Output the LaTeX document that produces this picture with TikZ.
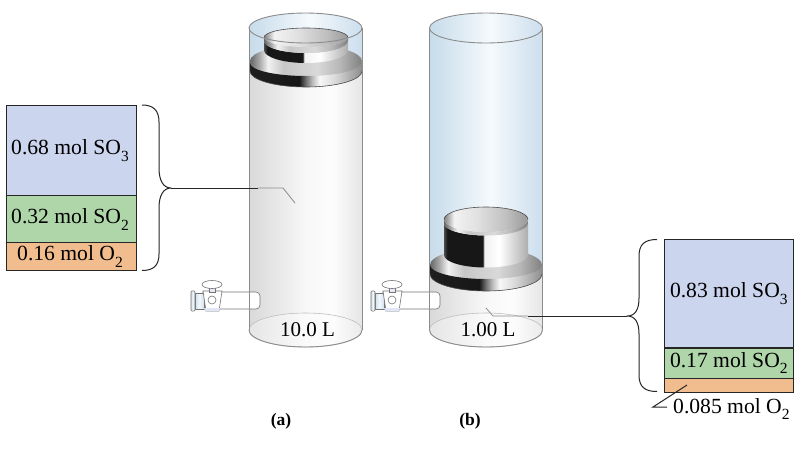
\documentclass[tikz,border=0pt]{standalone}
\usepackage{fontspec}
\setmainfont{Liberation Serif}
\newcommand{\sbs}[1]{\raisebox{-0.32em}{\fontsize{15.5}{15.5}\selectfont #1}}
\definecolor{blueA}{HTML}{CCD5EE}
\definecolor{greenA}{HTML}{AED6A9}
\definecolor{orangeA}{HTML}{F2BD8E}
\colorlet{valvefill}{blueA!50!white}
\pgfdeclarehorizontalshading{glassblue}{100bp}{rgb(0bp)=(0.78,0.86,0.92); rgb(25bp)=(0.78,0.86,0.92); rgb(52bp)=(0.96,0.98,0.99); rgb(75bp)=(0.80,0.87,0.93); rgb(100bp)=(0.80,0.87,0.93)}
\pgfdeclarehorizontalshading{glassgrey}{100bp}{rgb(0bp)=(0.85,0.85,0.85); rgb(25bp)=(0.85,0.85,0.85); rgb(50bp)=(0.97,0.97,0.97); rgb(62bp)=(0.99,0.99,0.99); rgb(75bp)=(0.90,0.90,0.90); rgb(100bp)=(0.90,0.90,0.90)}
\pgfdeclarehorizontalshading{floorgrey}{100bp}{rgb(0bp)=(0.90,0.90,0.90); rgb(25bp)=(0.90,0.90,0.90); rgb(50bp)=(0.98,0.98,0.98); rgb(62bp)=(0.99,0.99,0.99); rgb(75bp)=(0.92,0.92,0.92); rgb(100bp)=(0.92,0.92,0.92)}
\pgfdeclarehorizontalshading{metalup}{100bp}{rgb(0bp)=(0.30,0.30,0.30); rgb(25bp)=(0.30,0.30,0.30); rgb(27bp)=(0.09,0.09,0.09); rgb(48bp)=(0.09,0.09,0.09); rgb(49bp)=(0.95,0.95,0.95); rgb(58bp)=(1,1,1); rgb(75bp)=(0.68,0.68,0.68); rgb(100bp)=(0.68,0.68,0.68)}
\pgfdeclarehorizontalshading{metalside}{100bp}{rgb(0bp)=(0.12,0.12,0.12); rgb(25bp)=(0.12,0.12,0.12); rgb(47bp)=(0.09,0.09,0.09); rgb(50bp)=(0.45,0.45,0.45); rgb(53bp)=(0.75,0.75,0.75); rgb(56bp)=(0.97,0.97,0.97); rgb(63bp)=(0.85,0.85,0.85); rgb(75bp)=(0.55,0.55,0.55); rgb(100bp)=(0.55,0.55,0.55)}
\pgfdeclarehorizontalshading{metaltop}{100bp}{rgb(0bp)=(0.40,0.40,0.40); rgb(25bp)=(0.40,0.40,0.40); rgb(29bp)=(0.65,0.65,0.65); rgb(33bp)=(0.95,0.95,0.95); rgb(40bp)=(0.78,0.78,0.78); rgb(55bp)=(0.85,0.85,0.85); rgb(65bp)=(0.72,0.72,0.72); rgb(75bp)=(0.50,0.50,0.50); rgb(100bp)=(0.50,0.50,0.50)}
\pgfdeclarehorizontalshading{metalin}{100bp}{rgb(0bp)=(0.50,0.50,0.50); rgb(25bp)=(0.50,0.50,0.50); rgb(31bp)=(0.95,0.95,0.95); rgb(45bp)=(0.88,0.88,0.88); rgb(62bp)=(0.75,0.75,0.75); rgb(75bp)=(0.60,0.60,0.60); rgb(100bp)=(0.60,0.60,0.60)}
\pgfdeclarehorizontalshading{valveblue}{100bp}{rgb(0bp)=(0.82,0.88,0.93); rgb(25bp)=(0.82,0.88,0.93); rgb(50bp)=(0.95,0.97,0.98); rgb(75bp)=(0.82,0.88,0.93); rgb(100bp)=(0.82,0.88,0.93)}
% lower half of an ellipse, left to right / right to left
\newcommand{\lowLR}[2]{arc[start angle=180,end angle=360,x radius=#1pt,y radius=#2pt]}
\newcommand{\lowRL}[2]{arc[start angle=360,end angle=180,x radius=#1pt,y radius=#2pt]}
% cylinder: #1 centre x, #2 y where glass changes from blue to grey
\newcommand{\cylbody}[2]{%
  \path[shading=glassblue] ({#1-56.5},28) rectangle ({#1+56.5},#2);
  \path[shading=glassgrey] ({#1-56.5},#2) -- ({#1-56.5},330) \lowLR{56.5}{17} -- ({#1+56.5},#2) -- cycle;
  \draw[floorline,shading=floorgrey] (#1,330) ellipse[x radius=56.5pt,y radius=17pt];
  \draw[rimline] ({#1-56.5},330) \lowLR{56.5}{17};
  \path[shading=glassblue] (#1,28) ellipse[x radius=56.5pt,y radius=15pt];
}
\newcommand{\cylrim}[1]{%
  \draw[rimline] ({#1-56.5},28) -- ({#1-56.5},330);
  \draw[rimline] ({#1+56.5},28) -- ({#1+56.5},330);
  \draw[rimline] (#1,28) ellipse[x radius=56.5pt,y radius=15pt];
}
% piston: #1 cx, #2 inner ellipse y, #3 ry inner, #4 rim y, #5 ry rim, #6 upper bottom y, #7 ry upper bottom
% lower tier values come from \lowtop \lowtopry \bandtop \bandtopry \lowbot \lowbotry
\newcommand{\pistonshape}[7]{%
  \path[shading=metaltop] ({#1-56},\lowtop) -- ({#1-56},\lowbot) \lowLR{56}{\lowbotry} -- ({#1+56},\lowtop) arc[start angle=0,end angle=-180,x radius=56pt,y radius=\lowtopry pt] -- cycle;
  \path[shading=metaltop] (#1,\lowtop) ellipse[x radius=56pt,y radius=\lowtopry pt];
  \path[shading=metalside] ({#1-56},\bandtop) -- ({#1-56},\lowbot) \lowLR{56}{\lowbotry} -- ({#1+56},\bandtop) \lowRL{56}{\bandtopry} -- cycle;
  \path[shading=metalup] ({#1-42},#4) -- ({#1-42},#6) \lowLR{42}{#7} -- ({#1+42},#4) \lowRL{42}{#5} -- cycle;
  \path[shading=metaltop] ({#1-42},#2) -- ({#1-42},#4) \lowLR{42}{#5} -- ({#1+42},#2) \lowRL{42}{#3} -- cycle;
  \path[shading=metalin] (#1,#2) ellipse[x radius=42pt,y radius=#3pt];
  \draw[pistonedge] ({#1-56},\lowbot) \lowLR{56}{\lowbotry};
  \draw[pistonedge] ({#1-42},#2) arc[start angle=180,end angle=0,x radius=42pt,y radius=#3pt];
}
\newcommand{\stopcock}[1]{%
  \begin{scope}[xshift=#1pt]
    \draw[valveline,fill=white] (203,292) -- (256,292) to[out=0,in=90] (260,296) -- (260,305) to[out=-90,in=0] (256,309) -- (203,309) -- cycle;
    \draw[valveline,shading=valveblue] (195,293) rectangle (204,309);
    \draw[valveline,shading=valveblue] (191,292) to[out=90,in=90] (195,292) -- (195,310) to[out=-90,in=-90] (191,310) -- cycle;
    \draw[valveline,fill=white] (203,291) -- (222,291) -- (219,311) -- (206,311) -- cycle;
    \path[fill=blueA!60!white] (203.6,308) -- (220,308) -- (219,311) -- (206,311) -- cycle;
    \draw[valveline,fill=white] (212,300) circle[radius=4pt];
    \draw[valveline,fill=valvefill] (209,287) rectangle (215,292);
    \draw[valveline,fill=white] (212,284.5) ellipse[x radius=10pt,y radius=4pt];
  \end{scope}
}
\begin{document}
\begin{tikzpicture}[x=1pt,y=-1pt,
  rimline/.style={draw=black!45,line width=0.9pt},
  floorline/.style={draw=black!25,line width=0.6pt},
  pistonedge/.style={draw=black!70,line width=0.6pt},
  valveline/.style={draw=black!55,line width=0.6pt},
  boxnode/.style={draw=black!85,line width=1pt,minimum width=130pt,inner sep=0pt,font=\fontsize{21.6}{24}\selectfont},
  leader/.style={draw=black!85,line width=1pt},
  lightleader/.style={draw=black!45,line width=0.8pt},
  bracecurve/.style={draw=black!85,line width=1pt,line join=round},
  caption/.style={font=\fontsize{17.5}{20}\selectfont\bfseries,inner sep=0pt},
  vol/.style={font=\fontsize{21}{24}\selectfont,inner sep=0pt}
]
\useasboundingbox (0,0) rectangle (799,448);
\path[fill=white] (0,0) rectangle (799,448);

% --- cylinder (a)
\cylbody{305.5}{70}
\stopcock{0}
\def\lowtop{61}\def\lowtopry{16}\def\bandtop{63}\def\bandtopry{13}\def\lowbot{71}\def\lowbotry{16}
\pistonshape{306}{37.5}{9.5}{41}{12}{50}{13}
\cylrim{305.5}
\node[vol] (vola) at (307.5,330) {10.0 L};
\node[caption] (capa) at (281,421) {(a)};

% --- cylinder (b)
\cylbody{486}{274}
\stopcock{180}
\def\lowtop{265}\def\lowtopry{17}\def\bandtop{265}\def\bandtopry{14}\def\lowbot{274}\def\lowbotry{17}
\pistonshape{486}{219.5}{12.5}{223.5}{12}{255}{12.5}
\cylrim{486}
\node[vol] (volb) at (488,330) {1.00 L};
\node[caption] (capb) at (470,421) {(b)};

% --- mole boxes (a)
\node[boxnode,fill=blueA,minimum height=90pt] (soa) at (71,150.7) {\kern-2pt\raisebox{-1pt}{0.68 mol SO\sbs{3}}};
\node[boxnode,fill=greenA,minimum height=47pt] (sta) at (71,219.2) {\kern-2pt\raisebox{-1pt}{0.32 mol SO\sbs{2}}};
\node[boxnode,fill=orangeA,minimum height=28pt] (oa) at (71,256.7) {\kern-2pt0.16 mol O\sbs{2}};

% --- mole boxes (b)
\node[boxnode,fill=blueA,minimum width=129pt,minimum height=108.7pt] (sob) at (728.8,293.6) {\raisebox{-4pt}{0.83 mol SO\sbs{3}}};
\node[boxnode,fill=greenA,minimum width=129pt,minimum height=30pt] (stb) at (728.8,363) {0.17 mol SO\sbs{2}};
\node[boxnode,fill=orangeA,minimum width=129pt,minimum height=14.3pt] (ob) at (728.8,385.2) {};
\node[font=\fontsize{21.6}{24}\selectfont,inner sep=0pt,anchor=west] (oblabel) at (673,409) {0.085 mol O\sbs{2}};

% --- braces and leaders (a)
\coordinate (bracea) at (171,188);
\coordinate (leadaA) at (258,188);
\coordinate (leadaB) at (283,188);
\coordinate (leadaC) at (295,203);
\draw[bracecurve] (142,105) .. controls (153,105) and (159,110) .. (159,122) -- (159,168) .. controls (159,180) and (163,188) .. (bracea) .. controls (163,188) and (159,196) .. (159,208) -- (159,254) .. controls (159,266) and (153,270.5) .. (142,270.5);
\draw[leader] (bracea) -- (leadaA);
\draw[lightleader] (leadaA) -- (leadaB) -- (leadaC);

% --- braces and leaders (b)
\coordinate (braceb) at (627,316);
\coordinate (leadbA) at (528,316);
\coordinate (leadbB) at (493,316);
\coordinate (leadbC) at (486,308);
\draw[bracecurve] (657,239.5) .. controls (645,239.5) and (639,244) .. (639,256) -- (639,298) .. controls (639,310) and (635,316) .. (braceb) .. controls (635,316) and (639,322) .. (639,334) -- (639,375) .. controls (639,387) and (645,391.5) .. (657,391.5);
\draw[leader] (braceb) -- (leadbA);
\draw[lightleader] (leadbA) -- (leadbB) -- (leadbC);

% --- oxygen leader
\coordinate (oxA) at (687,385);
\coordinate (oxB) at (653,407);
\coordinate (oxC) at (667,407);
\draw[leader] (oxA) -- (oxB) -- (oxC);
\end{tikzpicture}
\end{document}
